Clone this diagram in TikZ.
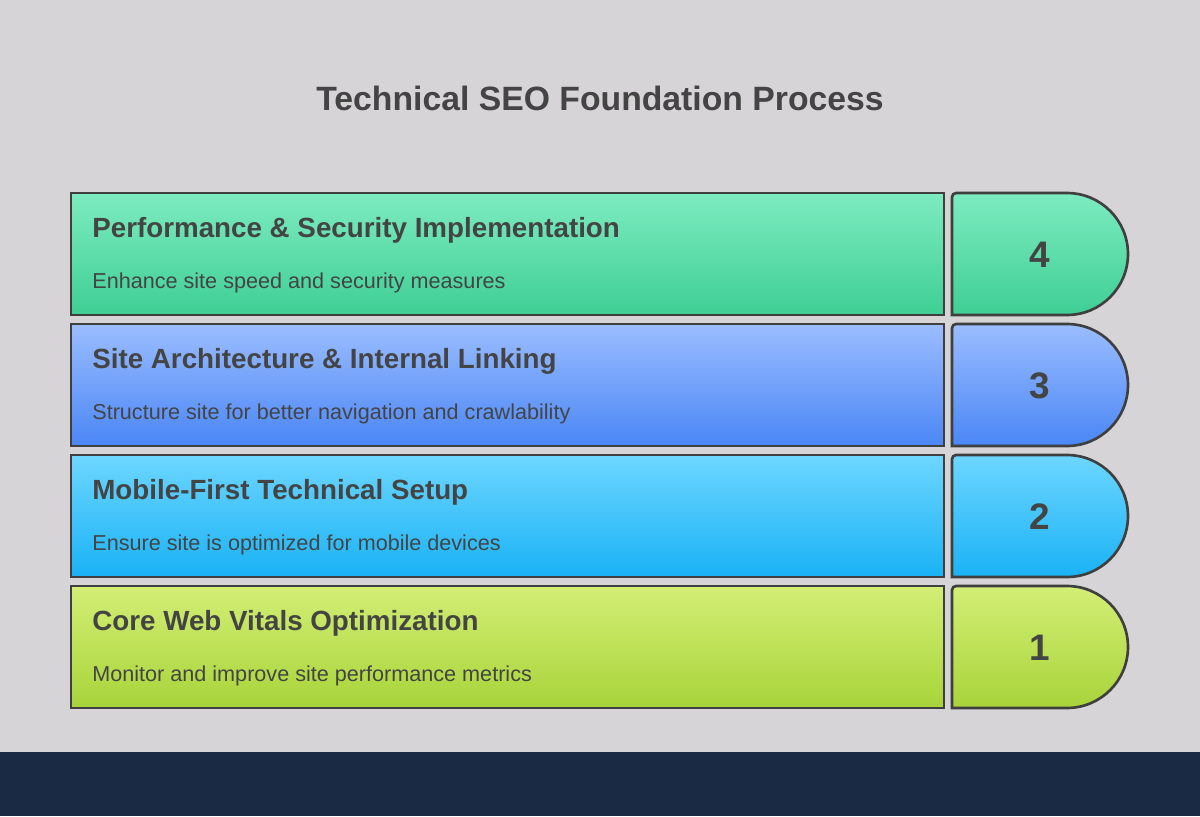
\documentclass[tikz,border=0pt]{standalone}
\usepackage{fontspec}
\setmainfont{Liberation Sans}
\definecolor{bgGray}{HTML}{D6D4D6}
\definecolor{bgNavy}{HTML}{1B2A44}
\definecolor{edgeGray}{HTML}{3F3F3F}
\definecolor{textGray}{HTML}{444444}
\definecolor{topA}{HTML}{7DEBC0}\definecolor{botA}{HTML}{3FCF95}
\definecolor{topB}{HTML}{9BBDFF}\definecolor{botB}{HTML}{4A86F5}
\definecolor{topC}{HTML}{6DD6FF}\definecolor{botC}{HTML}{1AB2F5}
\definecolor{topD}{HTML}{D3EE75}\definecolor{botD}{HTML}{A8D43A}
\tikzset{
  Box/.style={draw=edgeGray, line width=1.5pt},
  Head/.style={anchor=base west, font=\fontsize{15.8}{18}\selectfont\bfseries, text=textGray, inner sep=0pt},
  Sub/.style={anchor=base west, font=\fontsize{12.3}{14}\selectfont, text=textGray, inner sep=0pt},
  Num/.style={font=\fontsize{21}{24}\selectfont\bfseries, text=textGray, inner sep=0pt}
}
\begin{document}
\begin{tikzpicture}[x=0.02cm,y=-0.02cm]

\fill[bgGray] (0,0) rectangle (1200,752);
\fill[bgNavy] (0,752) rectangle (1200,816);
\useasboundingbox (0,0) rectangle (1200,816);

\node[font=\fontsize{19.2}{22}\selectfont\bfseries, text=textGray] (title) at (600,98) {Technical SEO Foundation Process};

\foreach \top/\col/\num/\head/\sub in {
  193/A/4/{Performance \& Security Implementation}/{Enhance site speed and security measures},
  324/B/3/{Site Architecture \& Internal Linking}/{Structure site for better navigation and crawlability},
  455/C/2/{Mobile-First Technical Setup}/{Ensure site is optimized for mobile devices},
  586/D/1/{Core Web Vitals Optimization}/{Monitor and improve site performance metrics}}{
  \draw[Box, top color=top\col, bottom color=bot\col] (71,\top) rectangle ++(873,122);
  \draw[Box, top color=top\col, bottom color=bot\col]
    (952,\top+122) -- (952,\top+4) arc[start angle=180, end angle=90, radius=0.08cm]
    -- (1067,\top) arc[start angle=90, end angle=-90, radius=1.22cm] -- cycle;
  \node[Head] (head\num) at (92,\top+44) {\head};
  \node[Sub] (sub\num) at (92,\top+95) {\sub};
  \node[Num] (num\num) at (1040,\top+62) {\num};
}

\end{tikzpicture}
\end{document}
